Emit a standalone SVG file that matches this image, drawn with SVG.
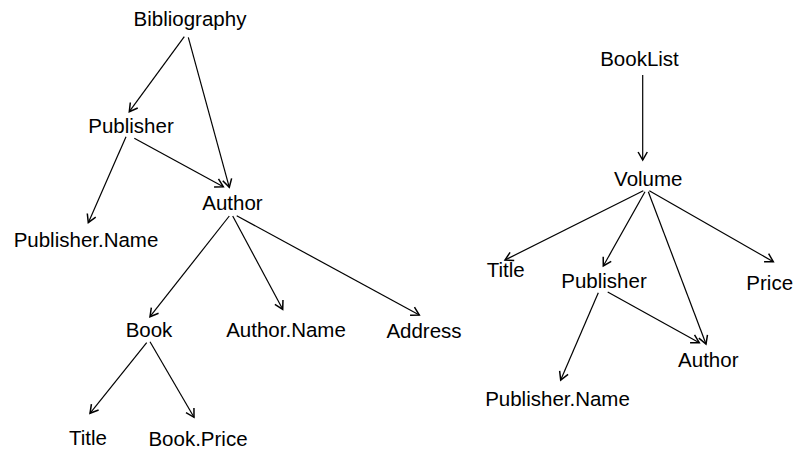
<svg xmlns="http://www.w3.org/2000/svg" width="795" height="454" viewBox="0 0 795 454">
<defs>
<marker id="ah" markerUnits="userSpaceOnUse" markerWidth="12" markerHeight="12" viewBox="-10 -6 12 12" refX="0" refY="0" orient="auto">
<path d="M-8,-4.6 L0,0 L-8,4.6" fill="none" stroke="#000" stroke-width="1.5"/>
</marker>
<style>
text{font-family:"Liberation Sans",Arial,sans-serif;font-size:20.5px;fill:#000;text-anchor:middle}
.e line{stroke:#000;stroke-width:1.2;marker-end:url(#ah)}
</style>
</defs>
<rect width="795" height="454" fill="#fff"/>
<g id="connectors" class="e">
<line x1="184.3" y1="36.7" x2="129.3" y2="111.7"/>
<line x1="188.3" y1="37.3" x2="229.3" y2="187.3"/>
<line x1="126" y1="136.7" x2="88.3" y2="222.7"/>
<line x1="134.3" y1="138.3" x2="223.3" y2="186.7"/>
<line x1="229.3" y1="216" x2="150" y2="316.7"/>
<line x1="232.7" y1="216" x2="282.7" y2="309.3"/>
<line x1="236.7" y1="215.7" x2="419.3" y2="315"/>
<line x1="146.7" y1="342.7" x2="90" y2="413.3"/>
<line x1="150" y1="341.7" x2="194" y2="417.3"/>
<line x1="642.7" y1="75" x2="642.7" y2="160"/>
<line x1="643.3" y1="190.7" x2="505" y2="260"/>
<line x1="645" y1="191.7" x2="603.3" y2="266"/>
<line x1="648.3" y1="191.7" x2="706" y2="344"/>
<line x1="649.3" y1="190.7" x2="773.3" y2="261.7"/>
<line x1="598.3" y1="292.7" x2="560.7" y2="380"/>
<line x1="607.7" y1="292" x2="699.3" y2="342.7"/>
</g>
<g id="n-bibliography"><text x="190" y="26">Bibliography</text></g>
<g id="n-publisher-l"><text x="131" y="133">Publisher</text></g>
<g id="n-author-l"><text x="232.5" y="210">Author</text></g>
<g id="n-publishername-l"><text x="86" y="247">Publisher.Name</text></g>
<g id="n-book"><text x="149" y="337">Book</text></g>
<g id="n-authorname"><text x="286" y="337">Author.Name</text></g>
<g id="n-address"><text x="424" y="338">Address</text></g>
<g id="n-title-l"><text x="88" y="445">Title</text></g>
<g id="n-bookprice"><text x="198" y="446">Book.Price</text></g>
<g id="n-booklist"><text x="639.5" y="66">BookList</text></g>
<g id="n-volume"><text x="648.3" y="186">Volume</text></g>
<g id="n-title-r"><text x="505.7" y="277">Title</text></g>
<g id="n-publisher-r"><text x="604" y="288">Publisher</text></g>
<g id="n-price"><text x="769.7" y="290">Price</text></g>
<g id="n-author-r"><text x="708.3" y="367">Author</text></g>
<g id="n-publishername-r"><text x="557.5" y="406">Publisher.Name</text></g>
</svg>
